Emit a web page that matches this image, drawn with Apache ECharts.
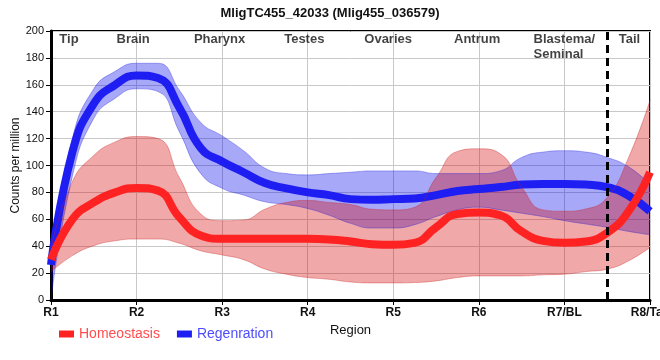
<!DOCTYPE html>
<html><head><meta charset="utf-8">
<script src="https://cdn.jsdelivr.net/npm/echarts@6/dist/echarts.min.js"></script>
<style>html,body{margin:0;padding:0;background:#fff}#c{width:660px;height:360px}</style>
</head><body><div id="c"></div>
<script>
// Region tick labels (one per main tick)
const regions = ['R1','R2','R3','R4','R5','R6','R7/BL','R8/Tail'];
// Sample positions along the body (in region units)
const positions = ['0','0.25','0.5','0.75','1','1.25','1.5','1.75','2','2.25','2.5','2.75','3','3.25','3.5','3.75','4','4.25','4.5','4.75','5','5.25','5.5','5.75','6','6.25','6.5','6.75','7'];

// Regenration (blue)
const regMean  = [26,110,146,160,167,165,143,113,103,95,87,83,80,78,75,74.5,75,75.5,78,81,82.5,84,85.8,86.3,86.3,85.8,84,77.5,66];
const regUpper = [31,120,157,170,176,176,156,132,122,111,98,94,93,94,95,96,96,96,94,94,94,96,106,110,111,110,106,99,86];
const regLower = [0,92,135,150,157,155,125,94,83,78,73,71,68,63,57,53.5,53.5,56,62,67,69,67,64.5,62,59,56.5,54,51,48.5];

// Homeostasis (red)
const homMean  = [30,60,72.5,80,83.3,81.3,61.5,48,45.5,45.5,45.5,45.5,45.5,45,43.5,41.5,41,42.5,54,64,65,63,51,44,42.5,43.5,50,66,95];
const homUpper = [38,88,107.5,117.5,121.5,120,91,64,59,59.5,67.5,72.5,74,72.5,71,67.5,67,69,91,110.5,112.4,108.7,84,67,66,67.7,76.4,106,148.5];
const homLower = [21,33,40.4,44,45.3,45.3,42.2,36.6,33.5,30,23,19.2,16.7,15.4,13.4,12.7,12.7,13,14.2,16.7,17.9,17.9,17.9,18.7,19.2,21.1,22.9,29.1,39.1];

// Tissue annotations along the top
const annoText = ['Tip','Brain','Pharynx','Testes','Ovaries','Antrum','Blastema/\nSeminal','Tail'];
const annoX = [0.21,0.96,1.97,2.96,3.94,4.98,5.64,6.76];
const annoAlign = ['center','center','center','center','center','center','left','center'];
const annoY = 199;
const tailBoundary = 6.5;

const FONT = '"Liberation Sans", Arial, sans-serif';
const blueLine = '#1e1ef2', redLine = '#ff2222';
const blueFill = 'rgba(0,0,234,0.34)', redFill = 'rgba(211,0,0,0.34)';
const blueEdge = 'rgba(30,30,220,0.35)', redEdge = 'rgba(200,30,30,0.35)';

const chart = echarts.init(document.getElementById('c'), null, {renderer:'canvas'});
chart.setOption({
  animation: false,
  backgroundColor: '#fff',
  textStyle: {fontFamily: FONT},
  title: {text: 'MligTC455_42033 (Mlig455_036579)', left: 'center', top: 2,
    textStyle: {fontFamily: FONT, fontSize: 13, fontWeight: 'bold', color: '#111'}},
  legend: {
    left: 54, top: 322, itemWidth: 15, itemHeight: 7, itemGap: 17, selectedMode: false,
    icon: 'rect',
    textStyle: {fontFamily: FONT, fontSize: 14},
    data: [{name:'Homeostasis', textStyle:{color:'#ff4d4d'}}, {name:'Regenration', textStyle:{color:'#4d4dff'}}]
  },
  grid: {left: 51, right: 10, top: 31, bottom: 60, show: true, borderColor: '#000', borderWidth: 2,
    backgroundColor: '#fff', containLabel: false, outerBoundsMode: 'none'},
  xAxis: [{
    type: 'category', data: positions, boundaryGap: false,
    name: 'Region', nameLocation: 'middle', nameGap: 24, nameMoveOverlap: false,
    nameTextStyle: {fontFamily: FONT, fontSize: 13, color: '#111'},
    axisLine: {lineStyle: {color: '#000', width: 3}},
    axisTick: {interval: 3, length: 5, lineStyle: {color: '#000', width: 1}},
    axisLabel: {interval: 0, margin: 7, fontFamily: FONT, fontSize: 12, fontWeight: 'bold', color: '#111',
      hideOverlap: false, formatter: (v, i) => (i % 4 === 0 ? regions[i / 4] : '')},
    splitLine: {show: true, interval: 3, lineStyle: {color: '#c8c8c8', width: 1}}
  }, {
    type: 'value', min: 0, max: 7, show: false
  }],
  yAxis: {
    type: 'value', min: 0, max: 200, interval: 20,
    name: 'Counts per million', nameLocation: 'middle', nameGap: 29, nameRotate: 90, nameMoveOverlap: false,
    nameTextStyle: {fontFamily: FONT, fontSize: 12, color: '#111'},
    axisLine: {show: true, lineStyle: {color: '#000', width: 3}},
    axisTick: {show: true, length: 5, lineStyle: {color: '#000'}},
    axisLabel: {fontFamily: FONT, fontSize: 11, color: '#111', margin: 7},
    splitLine: {lineStyle: {color: '#c8c8c8', width: 1}}
  },
  series: [
    {name: 'regLow', type: 'line', stack: 'reg', data: regLower, smooth: true, symbol: 'none', silent: true,
      lineStyle: {width: 1, color: blueEdge}, itemStyle: {color: blueEdge}},
    {name: 'regBand', type: 'line', stack: 'reg', data: regUpper.map((u, i) => u - regLower[i]), smooth: true, symbol: 'none', silent: true,
      lineStyle: {width: 1, color: blueEdge}, itemStyle: {color: blueEdge}, areaStyle: {color: blueFill, opacity: 1}},
    {name: 'Regenration', type: 'line', data: regMean, smooth: true, symbol: 'none', z: 3,
      lineStyle: {width: 8, color: blueLine}, itemStyle: {color: blueLine}},
    {name: 'homLow', type: 'line', stack: 'hom', data: homLower, smooth: true, symbol: 'none', silent: true, z: 3,
      lineStyle: {width: 1, color: redEdge}, itemStyle: {color: redEdge}},
    {name: 'homBand', type: 'line', stack: 'hom', data: homUpper.map((u, i) => u - homLower[i]), smooth: true, symbol: 'none', silent: true, z: 3,
      lineStyle: {width: 1, color: redEdge}, itemStyle: {color: redEdge}, areaStyle: {color: redFill, opacity: 1}},
    {name: 'Homeostasis', type: 'line', data: homMean, smooth: true, symbol: 'none', z: 3,
      lineStyle: {width: 8, color: redLine}, itemStyle: {color: redLine}},
    {name: 'annotations', type: 'scatter', xAxisIndex: 1, symbolSize: 1, z: 5, silent: true,
      itemStyle: {color: 'transparent'},
      data: annoX.map((x, i) => ({value: [x, annoY], label: {align: annoAlign[i]}})),
      label: {show: true, position: 'inside', verticalAlign: 'top', lineHeight: 15,
        fontFamily: FONT, fontSize: 13, fontWeight: 'bold', color: '#111',
        formatter: p => annoText[p.dataIndex]},
      markLine: {silent: true, symbol: ['none', 'none'], label: {show: false},
        lineStyle: {color: '#000', type: [8, 5], width: 3},
        data: [{xAxis: tailBoundary}]}
    }
  ]
});
</script></body></html>
